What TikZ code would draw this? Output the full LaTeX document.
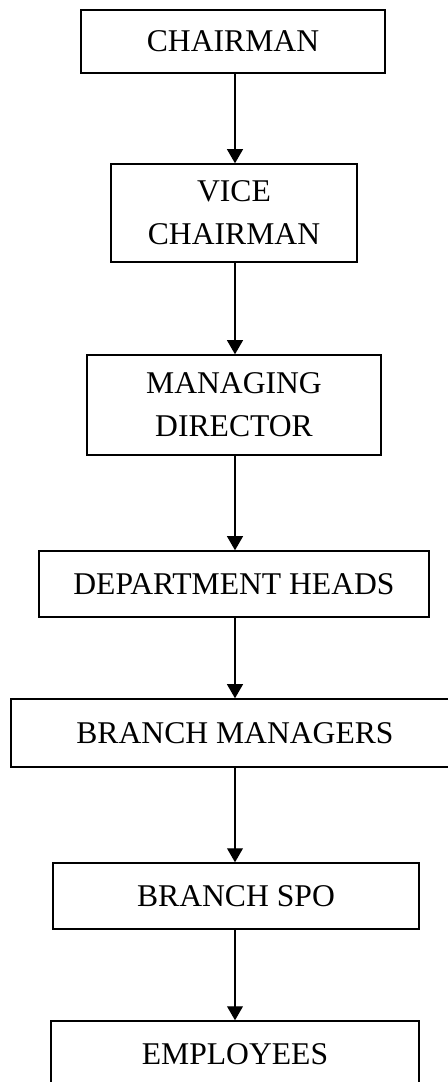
\documentclass[tikz,border=0pt]{standalone}
\usepackage{fontspec}
\setmainfont{Liberation Serif}
\usetikzlibrary{arrows.meta}
\tikzset{
    post/.style={draw,line width=0.8pt,align=center,inner sep=0pt,font=\fontsize{18}{24.4}\selectfont},
    link/.style={line width=0.8pt,-{Triangle[length=8pt,width=9pt]}}
}
\begin{document}
\begin{tikzpicture}
        \useasboundingbox (0,0) rectangle (8.96,-21.64);
        \clip (0,0) rectangle (8.96,-21.64);
        \node[post,minimum width=6.08cm,minimum height=1.26cm] (chair) at (4.66,-0.83) {CHAIRMAN};
        \node[post,minimum width=4.92cm,minimum height=1.96cm] (vice) at (4.68,-4.26) {VICE\\CHAIRMAN};
        \node[post,minimum width=5.88cm,minimum height=2.0cm] (md) at (4.68,-8.1) {MANAGING\\DIRECTOR};
        \node[post,minimum width=7.8cm,minimum height=1.32cm] (dept) at (4.68,-11.68) {DEPARTMENT HEADS};
        \node[post,minimum width=9.4cm,minimum height=1.36cm] (bm) at (4.92,-14.66) {\hspace*{-0.44cm}BRANCH MANAGERS};
        \node[post,minimum width=7.32cm,minimum height=1.32cm] (spo) at (4.72,-17.92) {BRANCH SPO};
        \node[post,minimum width=7.36cm,minimum height=1.32cm] (emp) at (4.70,-21.08) {EMPLOYEES};
        \draw[link] (chair.south -| 4.7,0) -- (vice.north -| 4.7,0);
        \draw[link] (vice.south -| 4.7,0) -- (md.north -| 4.7,0);
        \draw[link] (md.south -| 4.7,0) -- (dept.north -| 4.7,0);
        \draw[link] (dept.south -| 4.7,0) -- (bm.north -| 4.7,0);
        \draw[link] (bm.south -| 4.7,0) -- (spo.north -| 4.7,0);
        \draw[link] (spo.south -| 4.7,0) -- (emp.north -| 4.7,0);
    \end{tikzpicture}
\end{document}
